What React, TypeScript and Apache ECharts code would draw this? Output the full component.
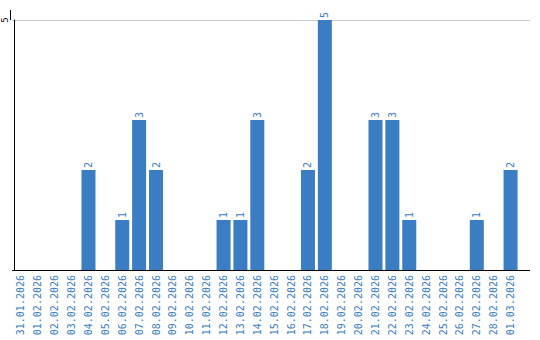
import React, { useEffect, useRef } from "react";
import * as echarts from "echarts";

const categories = [
  "31.01.2026", "01.02.2026", "02.02.2026", "03.02.2026", "04.02.2026", "05.02.2026",
  "06.02.2026", "07.02.2026", "08.02.2026", "09.02.2026", "10.02.2026", "11.02.2026",
  "12.02.2026", "13.02.2026", "14.02.2026", "15.02.2026", "16.02.2026", "17.02.2026",
  "18.02.2026", "19.02.2026", "20.02.2026", "21.02.2026", "22.02.2026", "23.02.2026",
  "24.02.2026", "25.02.2026", "26.02.2026", "27.02.2026", "28.02.2026", "01.03.2026",
];
const counts = [
  0, 0, 0, 0, 2, 0, 1, 3, 2, 0, 0, 0, 1, 1, 3, 0, 0, 2, 5, 0, 0, 3, 3, 1, 0, 0, 0, 1, 0, 2,
];
const yMax = 5;

const BLUE = "#3a7dc2";
const MONO = "DejaVu Sans Mono";

export default function App() {
  const ref = useRef<HTMLDivElement>(null);
  useEffect(() => {
    if (!ref.current) return;
    const chart = echarts.init(ref.current, null, { renderer: "svg" });
    chart.setOption({
      animation: false,
      grid: { left: 9, top: 20, width: 510, height: 250 },
      xAxis: {
        type: "category",
        data: categories,
        axisLine: { lineStyle: { color: "#000", width: 1 } },
        axisTick: { show: false },
        axisLabel: {
          interval: 0,
          rotate: 90,
          margin: 5,
          color: BLUE,
          fontFamily: MONO,
          fontSize: 10,
        },
      },
      yAxis: {
        type: "value",
        min: 0,
        max: yMax,
        interval: 5,
        offset: -1.5,
        axisLine: { show: true, lineStyle: { color: "#000", width: 1 } },
        axisTick: { show: false },
        splitLine: { lineStyle: { color: "#cccccc", width: 1 } },
        axisLabel: {
          showMinLabel: false,
          rotate: 90,
          margin: 5,
          align: "center",
          verticalAlign: "bottom",
          color: "#000",
          fontFamily: MONO,
          fontSize: 9,
        },
      },
      graphic: [
        { type: "line", shape: { x1: 10.5, y1: 10, x2: 10.5, y2: 20 }, style: { stroke: "#000", lineWidth: 1 } },
        { type: "line", shape: { x1: 519, y1: 270.5, x2: 530, y2: 270.5 }, style: { stroke: "#000", lineWidth: 1 } },
        { type: "line", shape: { x1: 519, y1: 20.5, x2: 530, y2: 20.5 }, style: { stroke: "#cccccc", lineWidth: 1 } },
      ],
      series: [
        {
          type: "bar",
          data: counts,
          barWidth: 14,
          itemStyle: { color: BLUE },
          label: {
            show: true,
            position: "top",
            rotate: 90,
            align: "left",
            verticalAlign: "middle",
            distance: 2,
            color: BLUE,
            fontFamily: MONO,
            fontSize: 10,
            formatter: (p: any) => (p.value ? String(p.value) : ""),
          },
        },
      ],
    });
    return () => chart.dispose();
  }, []);
  return (
    <div
      ref={ref}
      style={{ position: "fixed", left: 0, top: 0, width: 540, height: 340, background: "#fff" }}
    />
  );
}
